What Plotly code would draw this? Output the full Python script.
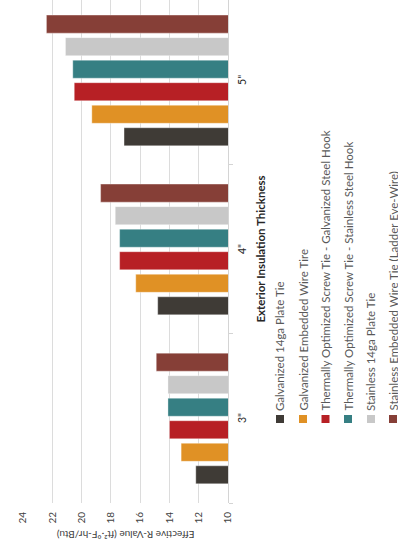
import plotly.graph_objects as go

categories = ['3"', '4"', '5"']
series_names = [
    "Galvanized 14ga Plate Tie",
    "Galvanized Embedded Wire Tire",
    "Thermally Optimized Screw Tie - Galvanized Steel Hook",
    "Thermally Optimized Screw Tie - Stainless Steel Hook",
    "Stainless 14ga Plate Tie",
    "Stainless Embedded Wire Tie (Ladder Eye-Wire)",
]
galv_plate = [12.2, 14.8, 17.1]
galv_wire = [13.2, 16.3, 19.3]
tos_galv = [14.0, 17.4, 20.5]
tos_stain = [14.1, 17.4, 20.6]
stain_plate = [14.1, 17.7, 21.1]
stain_wire = [14.9, 18.7, 22.4]
series_values = [galv_plate, galv_wire, tos_galv, tos_stain, stain_plate, stain_wire]
colors = ["#3F3B36", "#E09125", "#B72025", "#367F83", "#C8C8C8", "#863F37"]
value_ticks = [10, 12, 14, 16, 18, 20, 22, 24]

W, H = 398, 555
L, R, T, B = 23, 170, 0, 52
PW, PH = W - L - R, H - T - B
FONT = "Lato"


def px(xp):
    return (xp - L) / PW


def py(yp):
    return (T + PH - yp) / PH


fig = go.Figure()
for name, vals, col in zip(series_names, series_values, colors):
    fig.add_trace(go.Bar(
        y=categories, x=vals, orientation="h", name=name,
        marker=dict(color=col, line=dict(width=1, color="rgba(255,255,255,0.35)")),
        showlegend=False,
    ))

fig.update_layout(
    width=W, height=H,
    margin=dict(l=L, r=R, t=T, b=B, pad=0),
    paper_bgcolor="white", plot_bgcolor="white",
    barmode="group", bargap=0.2, bargroupgap=0.2,
    font=dict(family=FONT, color="#595959"),
    xaxis=dict(
        range=[24, 10], autorange=False,
        tickvals=value_ticks, ticktext=[str(v) for v in value_ticks],
        tickangle=-90, tickfont=dict(size=10, color="#404040"),
        showgrid=True, gridcolor="#DCDCDC", gridwidth=1.3,
        zeroline=False, showline=False, ticks="", ticklabelstandoff=6,
    ),
    yaxis=dict(
        type="category", range=[-0.5, 2.476], autorange=False,
        side="right", showline=True, linecolor="#D4D4D4", linewidth=1.3,
        ticks="outside", tickson="boundaries", ticklen=4, tickcolor="#D4D4D4",
        showticklabels=False, showgrid=False, zeroline=False,
    ),
)

annotations = [
    dict(text="Effective R-Value (ft²·°F-hr/Btu)", x=px(125.7), y=py(535),
         xref="paper", yref="paper", showarrow=False, textangle=180,
         xanchor="center", yanchor="middle",
         font=dict(size=10, color="#404040", family=FONT)),
    dict(text="<b>Exterior Insulation Thickness</b>", x=px(260), y=py(249.5),
         xref="paper", yref="paper", showarrow=False, textangle=-90,
         xanchor="center", yanchor="middle",
         font=dict(size=11.5, color="#262626", family=FONT)),
]
for c in categories:
    annotations.append(dict(text=c, x=px(242.5), y=c, xref="paper", yref="y",
                            showarrow=False, textangle=-90,
                            xanchor="center", yanchor="middle",
                            font=dict(size=10.5, color="#262626", family=FONT)))
legend_x = [280, 303, 325.5, 348, 371, 393]
shapes = []
for name, col, lx in zip(series_names, colors, legend_x):
    shapes.append(dict(type="rect", xref="paper", yref="paper",
                       x0=px(lx - 4), x1=px(lx + 4), y0=py(423), y1=py(415),
                       fillcolor=col, line=dict(width=0)))
    annotations.append(dict(text=name, x=px(lx), y=py(413), xref="paper", yref="paper",
                            showarrow=False, textangle=-90, xanchor="center", yanchor="bottom",
                            font=dict(size=11.5, color="#595959", family=FONT)))
fig.update_layout(annotations=annotations, shapes=shapes)

fig.write_html("out.html")
